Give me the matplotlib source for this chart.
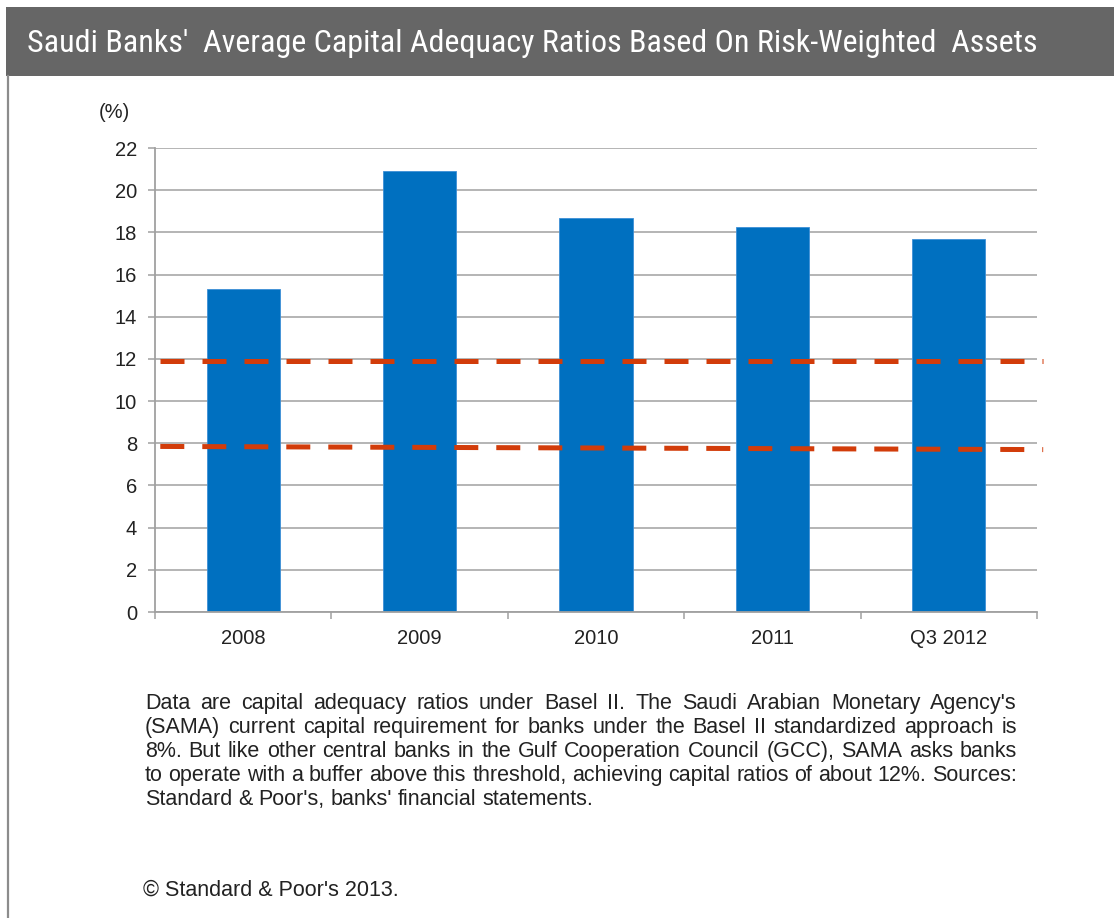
import matplotlib
matplotlib.use("Agg")
import matplotlib.pyplot as plt
from matplotlib import font_manager
from matplotlib.patches import Rectangle
from matplotlib.lines import Line2D
import numpy as np

# ---------------- data ----------------
categories = ["2008", "2009", "2010", "2011", "Q3 2012"]
car_values = [15.3, 20.9, 18.7, 18.25, 17.7]
yticks = [0, 2, 4, 6, 8, 10, 12, 14, 16, 18, 20, 22]
threshold_12 = [11.9, 11.9]      # start / end value of the dashed line
threshold_8 = [7.85, 7.7]

title = "Saudi Banks'  Average Capital Adequacy Ratios Based On Risk-Weighted  Assets"
unit_label = "(%)"
note_lines = [
    "Data are capital adequacy ratios under Basel II. The Saudi Arabian Monetary Agency's",
    "(SAMA) current capital requirement for banks under the Basel II standardized approach is",
    "8%. But like other central banks in the Gulf Cooperation Council (GCC), SAMA asks banks",
    "to operate with a buffer above this threshold, achieving capital ratios of about 12%. Sources:",
    "Standard & Poor's, banks' financial statements.",
]
copyright_text = "\u00a9 Standard & Poor's 2013."

# ---------------- style ----------------
W, H = 1114, 918
BAR = "#0070C0"
DASH = "#D23C0A"
GRID = "#A0A0A0"
TXT = "#222222"

names = {f.name for f in font_manager.fontManager.ttflist}
body_font = "Liberation Sans" if "Liberation Sans" in names else "DejaVu Sans"
title_font = body_font
for cand in ["Liberation Sans Narrow", "Roboto Condensed", "Open Sans Condensed", "DejaVu Sans Condensed"]:
    if cand in names:
        title_font = cand
        break

plt.rcParams["font.family"] = [body_font, "DejaVu Sans"]

fig = plt.figure(figsize=(W / 100, H / 100), dpi=100)
fig.patch.set_facecolor("white")

def fx(px):
    return px / W

def fy(py):
    return 1 - py / H

# header bar and left frame line
fig.patches.append(Rectangle((fx(6), fy(76)), fx(W - 6), (76 - 7) / H,
                             transform=fig.transFigure, facecolor="#666666",
                             edgecolor="none", zorder=0))
fig.lines.append(Line2D([fx(7.5), fx(7.5)], [fy(76), 0], transform=fig.transFigure,
                        color="#8C8C8C", lw=1.6))

# ---------------- axes ----------------
ax = fig.add_axes([fx(155), fy(612), fx(1037 - 155), (612 - 148) / H])
x = np.arange(len(categories))
ax.bar(x, car_values, width=0.415, color=BAR, edgecolor="#3d8fd6", linewidth=0.6, zorder=2)

ax.set_xlim(-0.5, len(categories) - 0.5)
ax.set_ylim(0, 22)
ax.set_yticks(yticks)
ax.set_yticklabels([str(v) for v in yticks])
ax.set_xticks(x)
ax.set_xticklabels(categories)
ax.set_xticks(np.arange(len(categories) + 1) - 0.5, minor=True)

ax.grid(axis="y", color=GRID, lw=1.1, zorder=1)
ax.set_axisbelow(True)
for s in ["top", "right"]:
    ax.spines[s].set_visible(False)
for s in ["left", "bottom"]:
    ax.spines[s].set_color(GRID)
    ax.spines[s].set_linewidth(1.3)

ax.tick_params(axis="y", length=5, width=1.1, color=GRID, pad=8, labelsize=14.5, labelcolor=TXT)
ax.tick_params(axis="x", which="major", length=0, pad=12, labelsize=14.5, labelcolor=TXT)
ax.tick_params(axis="x", which="minor", length=5, width=1.1, color=GRID)

# dashed threshold lines (extend slightly past the plot area)
xl = [-0.5 + 0.03, len(categories) - 0.5 + 0.035]
for vals in (threshold_12, threshold_8):
    ax.plot(xl, vals, color=DASH, lw=3.6, dashes=(4.8, 3.6), solid_capstyle="butt",
            dash_capstyle="butt", clip_on=False, zorder=3)

# ---------------- texts ----------------
fig.text(fx(99), fy(112), unit_label, ha="left", va="center", fontsize=14.5, color=TXT)

fig.canvas.draw()
renderer = fig.canvas.get_renderer()

def width_of(s, **kw):
    t = fig.text(0, 0, s, **kw)
    w = t.get_window_extent(renderer).width
    t.remove()
    return w

# title fitted to the header width
tkw = dict(family=[title_font, "DejaVu Sans"], weight="normal", color="white")
tfs = 19
tw = width_of(title, fontsize=tfs, **tkw)
tfs = tfs * (1036 - 27) / tw
fig.text(fx(27), fy(44), title, ha="left", va="center", fontsize=tfs, **tkw)

# justified note
nkw = dict(fontsize=15.5, color=TXT)
left, right = 145, 1017
base0, step = 709, 24
space_w = width_of("a a", **nkw) - width_of("aa", **nkw)
for i, line in enumerate(note_lines):
    words = line.split()
    widths = [width_of(w, **nkw) for w in words]
    yb = fy(base0 + i * step)
    if i < len(note_lines) - 1 and len(words) > 1:
        gap = (right - left - sum(widths)) / (len(words) - 1)
    else:
        gap = space_w
    xp = left
    for w, wd in zip(words, widths):
        fig.text(fx(xp), yb, w, ha="left", va="baseline", **nkw)
        xp += wd + gap

fig.text(fx(143), fy(896), copyright_text, ha="left", va="baseline", **nkw)

fig.savefig("out.png", dpi=100, facecolor="white")
